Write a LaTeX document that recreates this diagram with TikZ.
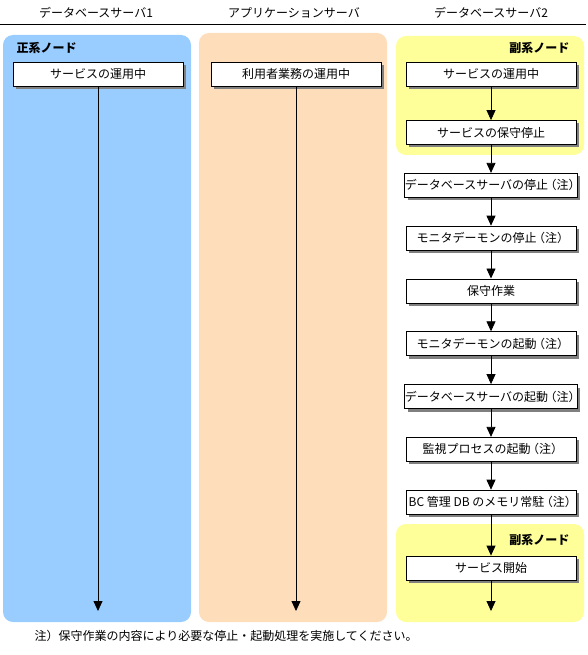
\documentclass[tikz,border=0pt]{standalone}
\usepackage{fontspec}
\setmainfont{Noto Sans CJK JP}
\usetikzlibrary{arrows.meta,shadows}
\definecolor{panelblue}{RGB}{153,204,255}
\definecolor{panelpeach}{RGB}{254,221,187}
\definecolor{panelyellow}{RGB}{255,255,153}
\newcommand\chunote{\kern-3.5pt（注）\kern-3.5pt}
\tikzset{
  panel/.style={rounded corners=10pt},
  stepbox/.style={draw=black, line width=0.8pt, fill=white,
    minimum width=170pt, minimum height=24pt, inner sep=0pt,
    drop shadow={shadow xshift=3pt, shadow yshift=-3pt, fill=black!50, opacity=1}},
  flow/.style={-{Triangle[width=9pt,length=10pt]}, line width=0.8pt},
  hdr/.style={font=\fontsize{12}{14}\selectfont},
  nodelbl/.style={font=\fontsize{12}{14}\selectfont\bfseries},
}
\begin{document}
\begin{tikzpicture}[x=1pt,y=-1pt,font=\fontsize{12}{14}\selectfont]
\useasboundingbox (0,0) rectangle (588,655);
% panels
\fill[panel, panelblue] (3,35) rectangle (191,622);
\fill[panel, panelpeach] (199,33) rectangle (387,622);
\fill[panel, panelyellow] (396,36) rectangle (584,155);
\fill[panel, panelyellow] (396,524) rectangle (584,622);
% headers
\node[hdr] (h1) at (96,13) {データベースサーバ1};
\node[hdr] (h2) at (294,13) {アプリケーションサーバ};
\node[hdr] (h3) at (491,13) {データベースサーバ2};
\coordinate (rl) at (0,25);
\coordinate (rr) at (586,25);
\draw[line width=1pt] (rl) -- (rr);
% node labels
\node[nodelbl, anchor=west] (lb1) at (13,48) {正系ノード};
\node[nodelbl, anchor=east] (lb2) at (573,48) {副系ノード};
\node[nodelbl, anchor=east] (lb3) at (573,540) {副系ノード};
% left column
\node[stepbox] (l1) at (98,74) {サービスの運用中};
\coordinate (lend) at (98,611);
\draw[flow] (l1.south) -- (lend);
% middle column
\node[stepbox] (m1) at (296,74) {利用者業務の運用中};
\coordinate (mend) at (296,611);
\draw[flow] (m1.south) -- (mend);
% right column
\node[stepbox] (r1) at (491,74) {サービスの運用中};
\node[stepbox] (r2) at (491,132.5) {サービスの保守停止};
\node[stepbox] (r3) at (491,185.3) {データベースサーバの停止\chunote};
\node[stepbox] (r4) at (491,238.1) {モニタデーモンの停止\chunote};
\node[stepbox] (r5) at (491,290.9) {保守作業};
\node[stepbox] (r6) at (491,343.7) {モニタデーモンの起動\chunote};
\node[stepbox] (r7) at (491,396.5) {データベースサーバの起動\chunote};
\node[stepbox] (r8) at (491,449.3) {監視プロセスの起動\chunote};
\node[stepbox] (r9) at (491,502.1) {BC 管理 DB のメモリ常駐\chunote};
\node[stepbox] (r10) at (491,568) {サービス開始};
\coordinate (rend) at (491,611);
\foreach \a/\b in {r1/r2,r2/r3,r3/r4,r4/r5,r5/r6,r6/r7,r7/r8,r8/r9,r9/r10}
  \draw[flow] (\a.south) -- (\b.north);
\draw[flow] (r10.south) -- (rend);
% footnote
\node[anchor=west] (note) at (31,636) {注）保守作業の内容により必要な停止・起動処理を実施してください。};
\end{tikzpicture}
\end{document}
